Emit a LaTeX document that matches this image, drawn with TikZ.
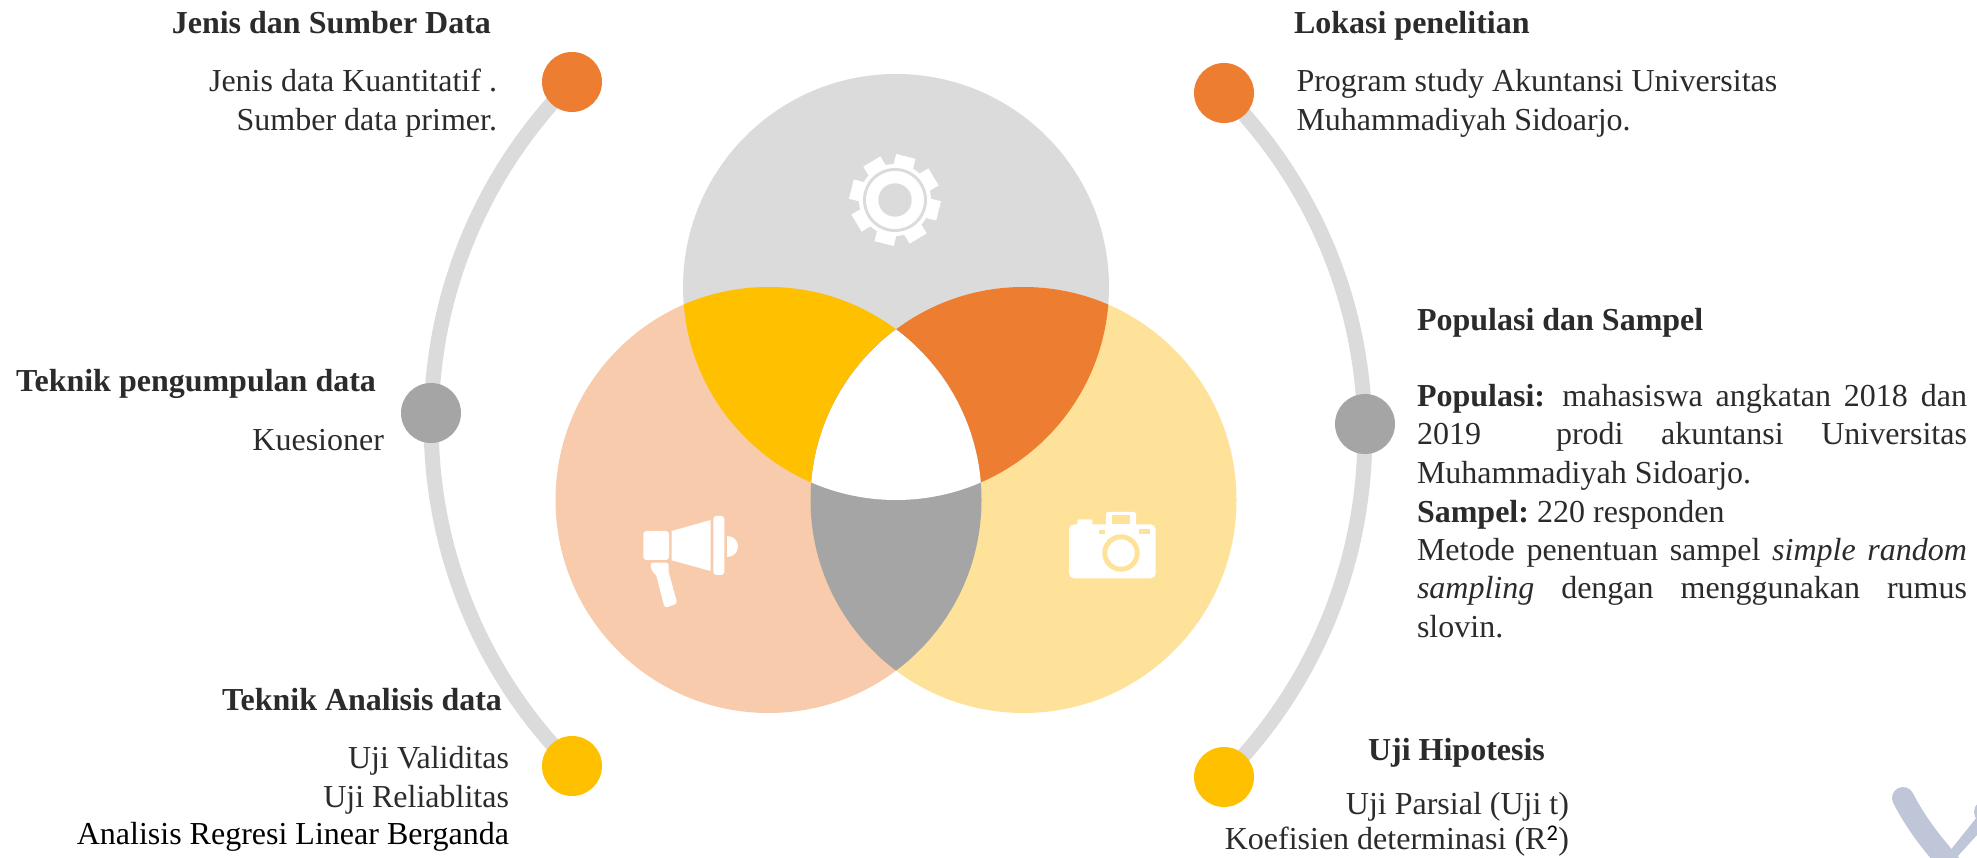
\documentclass[tikz,border=0pt]{standalone}
\usepackage{fontspec}
\setmainfont{Liberation Serif}
\newfontfamily\supfont{Carlito}
\definecolor{txt}{HTML}{2B2B2B}
\definecolor{cgrey}{HTML}{DBDBDB}
\definecolor{cpeach}{HTML}{F7CBAC}
\definecolor{cpale}{HTML}{FFE299}
\definecolor{cyel}{HTML}{FFC000}
\definecolor{corg}{HTML}{ED7D31}
\definecolor{cmid}{HTML}{A5A5A5}
\definecolor{cmark}{HTML}{BEC6D8}
\tikzset{
  x=1pt,y=1pt,
  body/.style={font=\fontsize{32}{38}\selectfont,text=txt,inner sep=0pt,outer sep=0pt},
  head/.style={font=\fontsize{32}{38}\selectfont\bfseries,text=txt,inner sep=0pt,outer sep=0pt},
  dot/.style={circle,minimum size=60pt,inner sep=0pt,fill=#1},
  ring/.style={line width=15pt,draw=cgrey},
}
\usetikzlibrary{backgrounds}
\newcommand{\tw}[1]{\makebox[550pt][s]{#1}}
\begin{document}
\begin{tikzpicture}
\useasboundingbox (0,0) rectangle (1977,857);
% Venn
\def\vT{(896,570) circle[radius=213pt]}
\def\vL{(768.5,357) circle[radius=213pt]}
\def\vR{(1023.5,357) circle[radius=213pt]}
\fill[cgrey] \vT;
\fill[cpeach] \vL;
\fill[cpale] \vR;
\begin{scope}\clip \vT; \fill[cyel] \vL; \fill[corg] \vR;\end{scope}
\begin{scope}\clip \vL; \fill[cmid] \vR;\end{scope}
\begin{scope}\clip \vT; \clip \vL; \fill[white] \vR;\end{scope}
% gear
\begin{scope}[shift={(895,657)}]
\fill[white] (0,0) circle[radius=36pt];
\foreach \a in {31,76,121,166,211,256,301,346}
  \fill[white] (\a-17:34pt) -- (\a-12.5:46pt) -- (\a+12.5:46pt) -- (\a+17:34pt) -- cycle;
\fill[cgrey] (0,0) circle[radius=32pt];
\fill[white] (0,0) circle[radius=29pt];
\fill[cgrey] (0,0) circle[radius=16.7pt];
\end{scope}
% megaphone
\begin{scope}[shift={(600,376)},x=0.33333pt,y=-0.33333pt]
\fill[white,rounded corners=3pt] (130,150) rectangle (207,237);
\fill[white] (215,150) -- (332,117) -- (332,270) -- (215,238) -- cycle;
\fill[white,rounded corners=3pt] (340,105) rectangle (373,282);
\fill[white] (381,165) .. controls (401,165) and (414,180) .. (414,196) .. controls (414,213) and (401,228) .. (381,228) -- cycle;
\fill[white,rounded corners=3pt] (150,245) -- (207,245) -- (205,270) -- (232,368) -- (194,381) -- (168,280) -- (156,272) -- cycle;
\end{scope}
% camera
\begin{scope}[shift={(1040,376)},x=0.33333pt,y=-0.33333pt]
\fill[white,rounded corners=5pt] (87,130) rectangle (347,292);
\fill[white,rounded corners=2pt] (112,115) rectangle (157,140);
\fill[white,rounded corners=2pt] (198,93) rectangle (288,140);
\fill[cpale] (217,102) rectangle (270,130);
\fill[cpale] (178,148) rectangle (195,160);
\fill[cpale] (298,145) rectangle (331,160);
\fill[cpale] (243,216) circle[radius=18.7pt];
\fill[white] (243,216) circle[radius=13.7pt];
\end{scope}
% watermark
\begin{scope}
\clip (0,0) rectangle (1977,857);
\draw[cmark,line width=22pt,line cap=round] (1903,59) .. controls (1918,30) and (1935,10) .. (1956,-14);
\fill[cmark] (1945,0) -- (1977,40) -- (1977,22) -- (1957,0) -- cycle;
\fill[cmark] (1986,45) circle[radius=12pt];
\end{scope}
% dots
\node[dot=corg] (dTL) at (572,775) {};
\node[dot=cmid] (dML) at (431,444) {};
\node[dot=cyel] (dBL) at (572,91) {};
\node[dot=corg] (dTR) at (1224,764) {};
\node[dot=cmid] (dMR) at (1365,433) {};
\node[dot=cyel] (dBR) at (1224,80) {};
\begin{scope}[on background layer]
\draw[ring] (dTL.center) arc[start angle=135.2,end angle=224.8,radius=485pt];
\draw[ring] (dTR.center) arc[start angle=44.8,end angle=-44.8,radius=485pt];
\end{scope}
\begin{scope}[yshift=-1.3pt]
% left texts
\node[head,anchor=base east] (a1) at (491,824.3) {Jenis dan Sumber Data};
\node[body,anchor=base east] (a2) at (497,766.3) {Jenis data Kuantitatif .};
\node[body,anchor=base east] (a3) at (497,728) {Sumber data primer.};
\node[head,anchor=base east] (b1) at (376,467) {Teknik pengumpulan data};
\node[body,anchor=base east] (b2) at (384,408) {Kuesioner};
\node[head,anchor=base east] (c1) at (502,148) {Teknik Analisis data};
\node[body,anchor=base east] (c2) at (509,90.3) {Uji Validitas};
\node[body,anchor=base east] (c3) at (509,51.3) {Uji Reliablitas};
\node[body,anchor=base east,text=black] (c4) at (509,14) {Analisis Regresi Linear Berganda};
% right texts
\node[head,anchor=base west] (d1) at (1294,824.3) {Lokasi penelitian};
\node[body,anchor=base west] (d2) at (1296.5,766.3) {Program study Akuntansi Universitas};
\node[body,anchor=base west] (d3) at (1296.5,728) {Muhammadiyah Sidoarjo.};
\node[head,anchor=base west] (e0) at (1417,528) {Populasi dan Sampel};
\node[body,anchor=base west] (e1) at (1417,452) {\tw{\textbf{Populasi:}\hspace{-3pt} mahasiswa angkatan 2018 dan}};
\node[body,anchor=base west] (e2) at (1417,413.5) {\tw{2019\ \ prodi akuntansi Universitas}};
\node[body,anchor=base west] (e3) at (1417,375) {Muhammadiyah Sidoarjo.};
\node[body,anchor=base west] (e4) at (1417,336) {\textbf{Sampel:}\hspace{-2.5pt} 220 responden};
\node[body,anchor=base west] (e5) at (1417,298) {\tw{Metode penentuan sampel \textit{simple random}}};
\node[body,anchor=base west] (e6) at (1417,260) {\tw{\textit{sampling} dengan menggunakan rumus}};
\node[body,anchor=base west] (e7) at (1417,221) {slovin.};
\node[head,anchor=base west] (f1) at (1368,98) {Uji Hipotesis};
\node[body,anchor=base east] (f2) at (1569,44) {Uji Parsial (Uji t)};
\node[body,anchor=base east] (f3) at (1569,8.5) {Koefisien determinasi (R\textsuperscript{\supfont\textcolor{black}{2}})};
\end{scope}
\end{tikzpicture}
\end{document}
